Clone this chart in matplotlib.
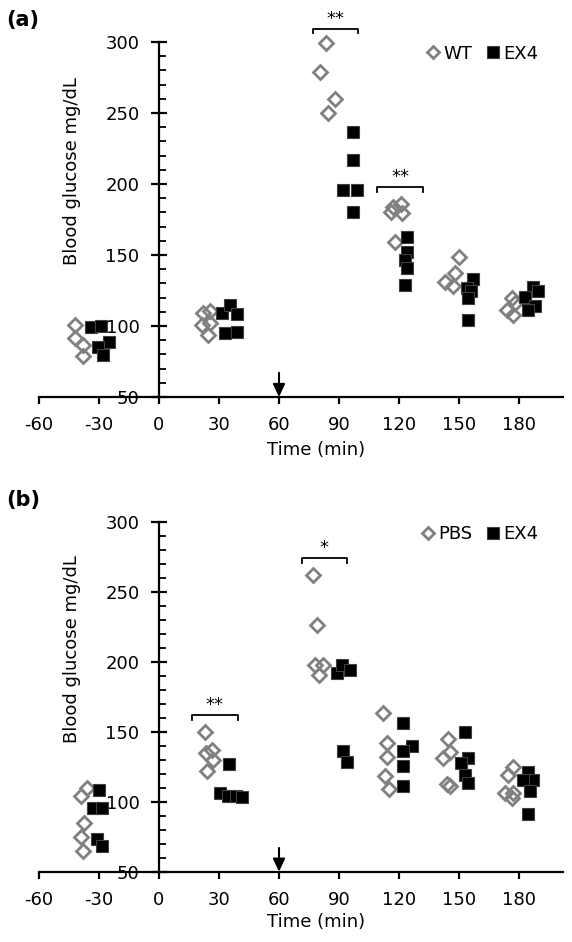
import matplotlib
matplotlib.use("Agg")
import matplotlib.pyplot as plt
from matplotlib.ticker import MultipleLocator

plt.rcParams['font.family'] = ['DejaVu Sans']
plt.rcParams['axes.unicode_minus'] = False

# ---------------- data (panel a) ----------------
a_wt_x = [-42, -42, -38, -38.2,
          22.2, 25.5, 21.3, 25.5, 24.7,
          83.5, 80.5, 88, 84.7,
          117.2, 120.8, 121.3, 115.8, 118,
          150.2, 148, 143, 147.2,
          176.3, 173.8, 177.2, 178]
a_wt_y = [100.5, 91.3, 86.6, 79,
          109, 110.8, 100.7, 102, 93.7,
          299, 279, 260, 250,
          184, 186, 179.4, 180.5, 159.4,
          148.4, 137, 131.2, 128.2,
          119.5, 111.3, 107.7, 116]
a_ex_x = [-34.2, -29.2, -24.8, -30.3, -27.8,
          31.3, 35.5, 38.8, 33, 39.2,
          97.2, 97.2, 92, 99, 96.8,
          123.8, 123.8, 123, 123.8, 123,
          157.2, 153.8, 156, 154.7, 154.3,
          187.2, 189.7, 183, 188, 184.7]
a_ex_y = [99.1, 100, 88.9, 85, 79.6,
          109, 114.8, 108.5, 95.3, 96,
          236.4, 217, 195.5, 196, 180.5,
          162.9, 152.3, 146.5, 140.6, 128.9,
          132.9, 126.5, 125, 119.5, 104.2,
          127.3, 124.9, 120.2, 114.1, 111.3]

# ---------------- data (panel b) ----------------
b_pbs_x = [-36.2, -39.2, -37.5, -39.2, -38.2,
           23, 26.7, 23.5, 27.2, 23.8,
           77.2, 78.8, 78, 82.2, 80.2,
           112.2, 114.2, 114.2, 113, 115.2,
           144.7, 145.5, 141.8, 145.5, 144,
           177.2, 174.7, 173, 177.2, 176.3]
b_pbs_y = [109.7, 104.2, 84.7, 74.6, 65,
           149.6, 137.2, 134.8, 130, 122.1,
           262.5, 226.7, 198, 198, 190.9,
           163.5, 142, 132.4, 118.6, 109,
           144.8, 136, 131.2, 111.4, 113,
           125.2, 119.3, 106.2, 106.2, 102.6]
b_ex_x = [-29.8, -33.2, -28.7, -31.2, -28.7,
          35.2, 30.5, 34.3, 38.3, 41.7,
          88.8, 91.3, 95.5, 92.2, 93.8,
          122.2, 126.3, 122.2, 122.2, 122.2,
          153, 154.7, 151, 153, 154.7,
          184.7, 187.2, 182.2, 185.5, 184.3]
b_ex_y = [108.5, 95.4, 95.4, 73.4, 68.4,
          127.2, 106.2, 104.4, 104.4, 103.7,
          192.1, 198, 194.5, 136.7, 128.4,
          156.7, 140, 136.7, 125.7, 111.4,
          149.6, 131.2, 127.7, 119.3, 113.3,
          121.6, 115.7, 115.7, 108, 91.3]

# significance brackets: (x_start, x_end, y_level, label)
a_brackets = [(76.8, 99.7, 309.5, '**'), (109.2, 132.2, 198, '**')]
b_brackets = [(71.3, 93.8, 274.5, '*'), (16.3, 39.3, 162.2, '**')]

x_ticks = [-60, -30, 0, 30, 60, 90, 120, 150, 180]
y_ticks = [50, 100, 150, 200, 250, 300]
arrow_time = 60

GRAY = '#808080'
FS = 13

fig = plt.figure(figsize=(5.72, 9.42), dpi=100)
ax_a = fig.add_axes([39/572, 1-397/942, 524/572, 355/942])
ax_b = fig.add_axes([39/572, 1-871.7/942, 524/572, 349.4/942])


def style(ax, s1x, s1y, s2x, s2y, lab1, lab2, brackets):
    ax.set_xlim(-60, 202)
    ax.set_ylim(50, 300)
    ax.spines['top'].set_visible(False)
    ax.spines['right'].set_visible(False)
    ax.spines['left'].set_position(('data', 0))
    for sp in ('left', 'bottom'):
        ax.spines[sp].set_linewidth(1.6)
    ax.set_xticks(x_ticks)
    ax.set_yticks(y_ticks)
    ax.yaxis.set_minor_locator(MultipleLocator(10))
    ax.tick_params(axis='x', direction='out', length=5, width=1.6,
                   labelsize=FS, pad=9)
    ax.tick_params(axis='y', which='major', direction='inout', length=12,
                   width=1.6, labelsize=FS, pad=8)
    ax.tick_params(axis='y', which='minor', direction='in', length=5,
                   width=1.3)
    ax.patch.set_alpha(0)

    ax.plot(s1x, s1y, linestyle='none', marker='D', markersize=7.2,
            markerfacecolor='none', markeredgecolor=GRAY, markeredgewidth=2.0,
            label=lab1, clip_on=False, zorder=3)
    ax.plot(s2x, s2y, linestyle='none', marker='s', markersize=9.0,
            markerfacecolor='black', markeredgecolor='#404040',
            markeredgewidth=0.8, label=lab2, clip_on=False, zorder=4)

    for x0, x1, yb, lab in brackets:
        ax.plot([x0, x0, x1, x1], [yb - 3.5, yb, yb, yb - 3.5], color='black',
                lw=1.3, clip_on=False, zorder=5)
        ax.text((x0 + x1) / 2, yb + 0.5, lab, ha='center', va='bottom',
                fontsize=FS, clip_on=False)

    ax.annotate('', xy=(arrow_time, 50), xytext=(arrow_time, 67),
                arrowprops=dict(arrowstyle='-|>,head_length=0.55,head_width=0.26',
                                color='black', lw=1.5, mutation_scale=14,
                                shrinkA=0, shrinkB=0))

    ax.set_xlabel('Time (min)', fontsize=FS)
    ax.text(0.063, 0.637, 'Blood glucose mg/dL', rotation=90, ha='center',
            va='center', fontsize=FS, transform=ax.transAxes)

    leg = ax.legend(loc='upper right', bbox_to_anchor=(0.966, 1.013), ncol=2,
                    frameon=False, fontsize=FS, handlelength=0.6,
                    handletextpad=0.25, columnspacing=0.85, borderaxespad=0,
                    markerscale=1.0)
    hs = leg.legend_handles
    hs[0].set_markersize(6.3)
    hs[1].set_markersize(8.8)
    return leg


style(ax_a, a_wt_x, a_wt_y, a_ex_x, a_ex_y, 'WT', 'EX4', a_brackets)
style(ax_b, b_pbs_x, b_pbs_y, b_ex_x, b_ex_y, 'PBS', 'EX4', b_brackets)
ax_a.xaxis.set_label_coords(0.529, -0.124)
ax_b.xaxis.set_label_coords(0.529, -0.118)

fig.text(6/572, 1-10/942, '(a)', fontsize=15, fontweight='bold', va='top', ha='left')
fig.text(6/572, 1-490/942, '(b)', fontsize=15, fontweight='bold', va='top', ha='left')

fig.savefig('out.png', dpi=100)
